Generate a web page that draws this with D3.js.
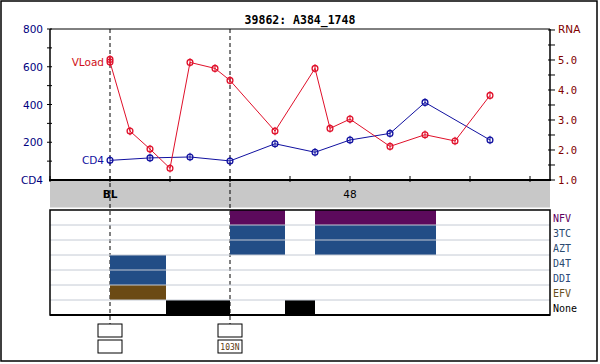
<!DOCTYPE html>
<html><head><meta charset="utf-8">
<script src="https://cdn.jsdelivr.net/npm/d3@7"></script>
<style>body{margin:0;background:#fff}svg{display:block}</style>
</head><body>
<script>
const title = "39862: A384_1748";
const vloadWeeks = [0, 0, 4, 8, 12, 16, 21, 24, 33, 41, 44, 48, 56, 63, 69, 76];
const vloadLog   = [5.02, 4.93, 2.63, 2.03, 1.39, 4.92, 4.72, 4.32, 2.63, 4.72, 2.72, 3.03, 2.12, 2.51, 2.30, 3.82];
const cd4Weeks  = [0, 8, 16, 24, 33, 41, 48, 56, 63, 76];
const cd4Values = [104, 117, 122, 101, 192, 147, 212, 247, 411, 212];
const cd4Ticks = [200, 400, 600, 800];
const rnaTicks = [1, 2, 3, 4, 5];
const timeLabels = [{w: 0, t: "BL", bold: true}, {w: 48, t: "48", bold: false}];
const drugs = ["NFV", "3TC", "AZT", "D4T", "DDI", "EFV", "None"];
const drugColors = ["#5c0a5c", "#224d86", "#224d86", "#224d86", "#224d86", "#6b4a14", "#000000"];
const labelColors = ["#600060", "#2a4a70", "#2a4a70", "#2a4a70", "#2a4a78", "#6a5020", "#000000"];
const periodDrug  = ["NFV", "NFV", "3TC", "3TC", "AZT", "AZT", "D4T", "DDI", "EFV", "None", "None"];
const periodStart = [24, 41, 24, 41, 24, 41, 0, 0, 0, 11.2, 35];
const periodEnd   = [35, 65.2, 35, 65.2, 35, 65.2, 11.2, 11.2, 11.2, 24, 41];
const eventWeeks = [0, 24];
const eventLabels = ["", "103N"];

const W = 600, H = 364;
const svg = d3.select("body").append("svg").attr("width", W).attr("height", H);
const L = 50, R = 550, T = 29, B = 180;
const x = d3.scaleLinear().domain([-12, 88]).range([L, R]);
const yCD4 = d3.scaleLinear().domain([0, 800]).range([B, T]);
const yRNA = d3.scaleLinear().domain([1, 6.033]).range([B, T]);

svg.append("rect").attr("x", 1).attr("y", 1).attr("width", 596).attr("height", 360)
  .attr("fill", "#fff").attr("stroke", "#000").attr("stroke-width", 1.5);

svg.append("text").attr("x", 300).attr("y", 24).attr("text-anchor", "middle")
  .attr("font-family", "DejaVu Sans Mono").attr("font-weight", "bold").attr("font-size", 11.5)
  .text(title);

// gray band
const bandTop = 181, bandBot = 207.5;
svg.append("rect").attr("x", L).attr("y", bandTop).attr("width", R - L).attr("height", bandBot - bandTop).attr("fill", "#c8c8c8");

// drug panel
const pTop = 210, rowH = 15;
const yRow = d3.scaleBand().domain(drugs).range([pTop, pTop + rowH * drugs.length]);
const pBot = pTop + rowH * drugs.length;

// dashed event lines
eventWeeks.forEach(w => {
  svg.append("line").attr("x1", x(w)).attr("x2", x(w)).attr("y1", T).attr("y2", 324)
    .attr("stroke", "#000").attr("stroke-width", 1).attr("stroke-dasharray", "4,3");
});

svg.selectAll("rect.bar").data(periodDrug.map((d, i) => ({d, s: periodStart[i], e: periodEnd[i]})))
  .enter().append("rect").attr("class", "bar")
  .attr("x", d => x(d.s)).attr("width", d => x(d.e) - x(d.s))
  .attr("y", d => yRow(d.d)).attr("height", rowH)
  .attr("fill", d => drugColors[drugs.indexOf(d.d)]);

drugs.slice(1).forEach(d => {
  svg.append("line").attr("x1", L).attr("x2", R).attr("y1", yRow(d)).attr("y2", yRow(d))
    .attr("stroke", "#c4cad4").attr("stroke-width", 1);
});
svg.append("rect").attr("x", L).attr("y", pTop).attr("width", R - L).attr("height", pBot - pTop)
  .attr("fill", "none").attr("stroke", "#000").attr("stroke-width", 1.5);
svg.append("line").attr("x1", L).attr("x2", R).attr("y1", pBot).attr("y2", pBot).attr("stroke", "#000").attr("stroke-width", 2);

drugs.forEach((d, i) => {
  svg.append("text").attr("x", 553).attr("y", yRow(d) + rowH / 2 + 4)
    .attr("font-family", "DejaVu Sans Mono").attr("font-size", 10).attr("fill", labelColors[i]).text(d);
});

// event boxes
eventWeeks.forEach((w, i) => {
  svg.append("rect").attr("x", x(w) - 12).attr("y", 324).attr("width", 24).attr("height", 13)
    .attr("fill", "#fff").attr("stroke", "#000").attr("stroke-width", 1);
  svg.append("rect").attr("x", x(w) - 12).attr("y", 340).attr("width", 24).attr("height", 13)
    .attr("fill", "#fff").attr("stroke", "#000").attr("stroke-width", 1);
  svg.append("text").attr("x", x(w)).attr("y", 350).attr("text-anchor", "middle")
    .attr("font-family", "DejaVu Sans Mono").attr("font-size", 8).attr("fill", "#5a3a10").text(eventLabels[i]);
});

// plot frame
svg.append("line").attr("x1", L).attr("x2", R).attr("y1", T).attr("y2", T).attr("stroke", "#000").attr("stroke-width", 1);
svg.append("line").attr("x1", L).attr("x2", L).attr("y1", T).attr("y2", B).attr("stroke", "#000").attr("stroke-width", 1.5);
svg.append("line").attr("x1", R).attr("x2", R).attr("y1", T).attr("y2", B).attr("stroke", "#000").attr("stroke-width", 1.5);
svg.append("line").attr("x1", L - 1).attr("x2", R + 1).attr("y1", B).attr("y2", B).attr("stroke", "#000").attr("stroke-width", 2);

// left axis ticks
d3.range(100, 801, 100).forEach(v => {
  svg.append("line").attr("x1", L - 3).attr("x2", L + 2).attr("y1", yCD4(v)).attr("y2", yCD4(v)).attr("stroke", "#000");
});
cd4Ticks.forEach(v => {
  svg.append("text").attr("x", 43).attr("y", yCD4(v) + 4).attr("text-anchor", "end")
    .attr("font-family", "DejaVu Sans").attr("font-size", 10.5).attr("fill", "#000080").text(v);
});
svg.append("text").attr("x", 43).attr("y", B + 4).attr("text-anchor", "end")
  .attr("font-family", "DejaVu Sans").attr("font-size", 10.5).attr("fill", "#000080").text("CD4");

// right axis
d3.range(1, 6.01, 0.5).forEach(v => {
  svg.append("line").attr("x1", R - 2).attr("x2", R + 5).attr("y1", yRNA(v)).attr("y2", yRNA(v)).attr("stroke", "#000");
});
rnaTicks.forEach(v => {
  svg.append("text").attr("x", 558).attr("y", yRNA(v) + 4)
    .attr("font-family", "DejaVu Sans Mono").attr("font-size", 10.5).attr("fill", "#800000").text(v.toFixed(1));
});
svg.append("text").attr("x", 558).attr("y", T + 4)
  .attr("font-family", "DejaVu Sans").attr("font-size", 10.5).attr("fill", "#800000").text("RNA");

// x ticks
d3.range(-12, 89, 12).forEach(w => {
  svg.append("line").attr("x1", x(w)).attr("x2", x(w)).attr("y1", B - 4).attr("y2", B + 2).attr("stroke", "#000");
});
timeLabels.forEach(l => {
  svg.append("text").attr("x", x(l.w)).attr("y", 198).attr("text-anchor", "middle")
    .attr("font-family", "DejaVu Sans").attr("font-size", 10.5)
    .attr("font-weight", l.bold ? "bold" : "normal").text(l.t);
});

// series
function series(weeks, vals, ys, color) {
  const pts = weeks.map((w, i) => [x(w), ys(vals[i])]);
  svg.append("path").attr("d", d3.line()(pts)).attr("fill", "none").attr("stroke", color).attr("stroke-width", 1);
  pts.forEach(p => {
    svg.append("circle").attr("cx", p[0]).attr("cy", p[1]).attr("r", 2.9)
      .attr("fill", "#fff").attr("fill-opacity", 0).attr("stroke", color).attr("stroke-width", 1.3);
    svg.append("line").attr("x1", p[0]).attr("x2", p[0]).attr("y1", p[1] - 4.2).attr("y2", p[1] + 4.2)
      .attr("stroke", color).attr("stroke-width", 1);
  });
}
series(cd4Weeks, cd4Values, yCD4, "#1010a0");
series(vloadWeeks, vloadLog, yRNA, "#e0102a");

svg.append("text").attr("x", 104).attr("y", yRNA(vloadLog[1]) + 4).attr("text-anchor", "end")
  .attr("font-family", "DejaVu Sans").attr("font-size", 10.5).attr("fill", "#d01020").text("VLoad");
svg.append("text").attr("x", 104).attr("y", yCD4(cd4Values[0]) + 4).attr("text-anchor", "end")
  .attr("font-family", "DejaVu Sans").attr("font-size", 10.5).attr("fill", "#1010a0").text("CD4");
</script>
</body></html>
